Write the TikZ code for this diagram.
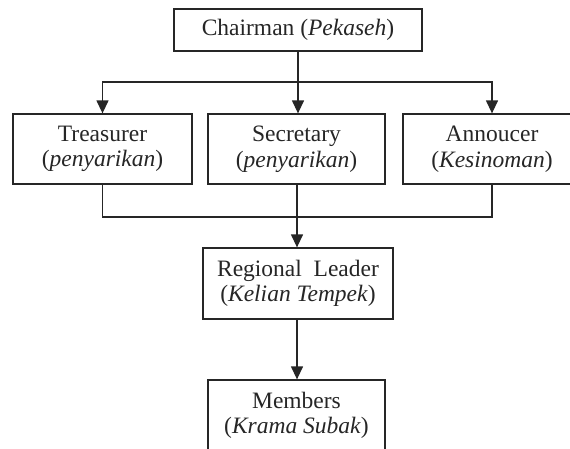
\documentclass[tikz,border=0pt]{standalone}
\usepackage{fontspec}
\setmainfont{Liberation Serif}
\usetikzlibrary{arrows.meta}
\tikzset{
  orgbox/.style={draw=black!85, line width=1.3pt, align=center, inner sep=0pt,
    font=\fontsize{23.5}{25.5}\selectfont, text=black!85},
  conn/.style={draw=black!85, line width=1.3pt},
  arr/.style={conn, -{Triangle[length=13pt,width=12pt]}},
}
\begin{document}
\begin{tikzpicture}[x=1pt,y=-1pt]
\clip (0,0) rectangle (570,448);
\fill[white] (0,0) rectangle (570,448);
\node[orgbox, minimum width=248pt, minimum height=42pt] (chair) at (298,30) {Chairman (\textit{Pekaseh})};
\node[orgbox, minimum width=179pt, minimum height=70pt] (treas) at (102.5,149) {Treasurer\\(\textit{penyarikan})};
\node[orgbox, minimum width=177pt, minimum height=70pt] (secr) at (296.5,149) {Secretary\\(\textit{penyarikan})};
\node[orgbox, minimum width=178pt, minimum height=70pt] (ann) at (492,149) {Annoucer\\(\textit{Kesinoman})};
\node[orgbox, minimum width=190pt, minimum height=71pt] (reg) at (298,283.5) {Regional\ \ Leader\\(\textit{Kelian Tempek})};
\node[orgbox, minimum width=177pt, minimum height=71pt] (mem) at (296.5,415.5) {Members\\(\textit{Krama Subak})};
\coordinate (j1) at (298,82);
\coordinate (j2) at (297,217);
\draw[arr] (chair.south) -- (chair.south |- secr.north);
\draw[arr] (j1) -| (treas.north);
\draw[arr] (j1) -| (ann.north);
\draw[conn] (treas.south) |- (j2) -| (ann.south);
\draw[arr] (secr.south -| j2) -- (j2 |- reg.north);
\draw[arr] (reg.south -| j2) -- (j2 |- mem.north);
\end{tikzpicture}
\end{document}
